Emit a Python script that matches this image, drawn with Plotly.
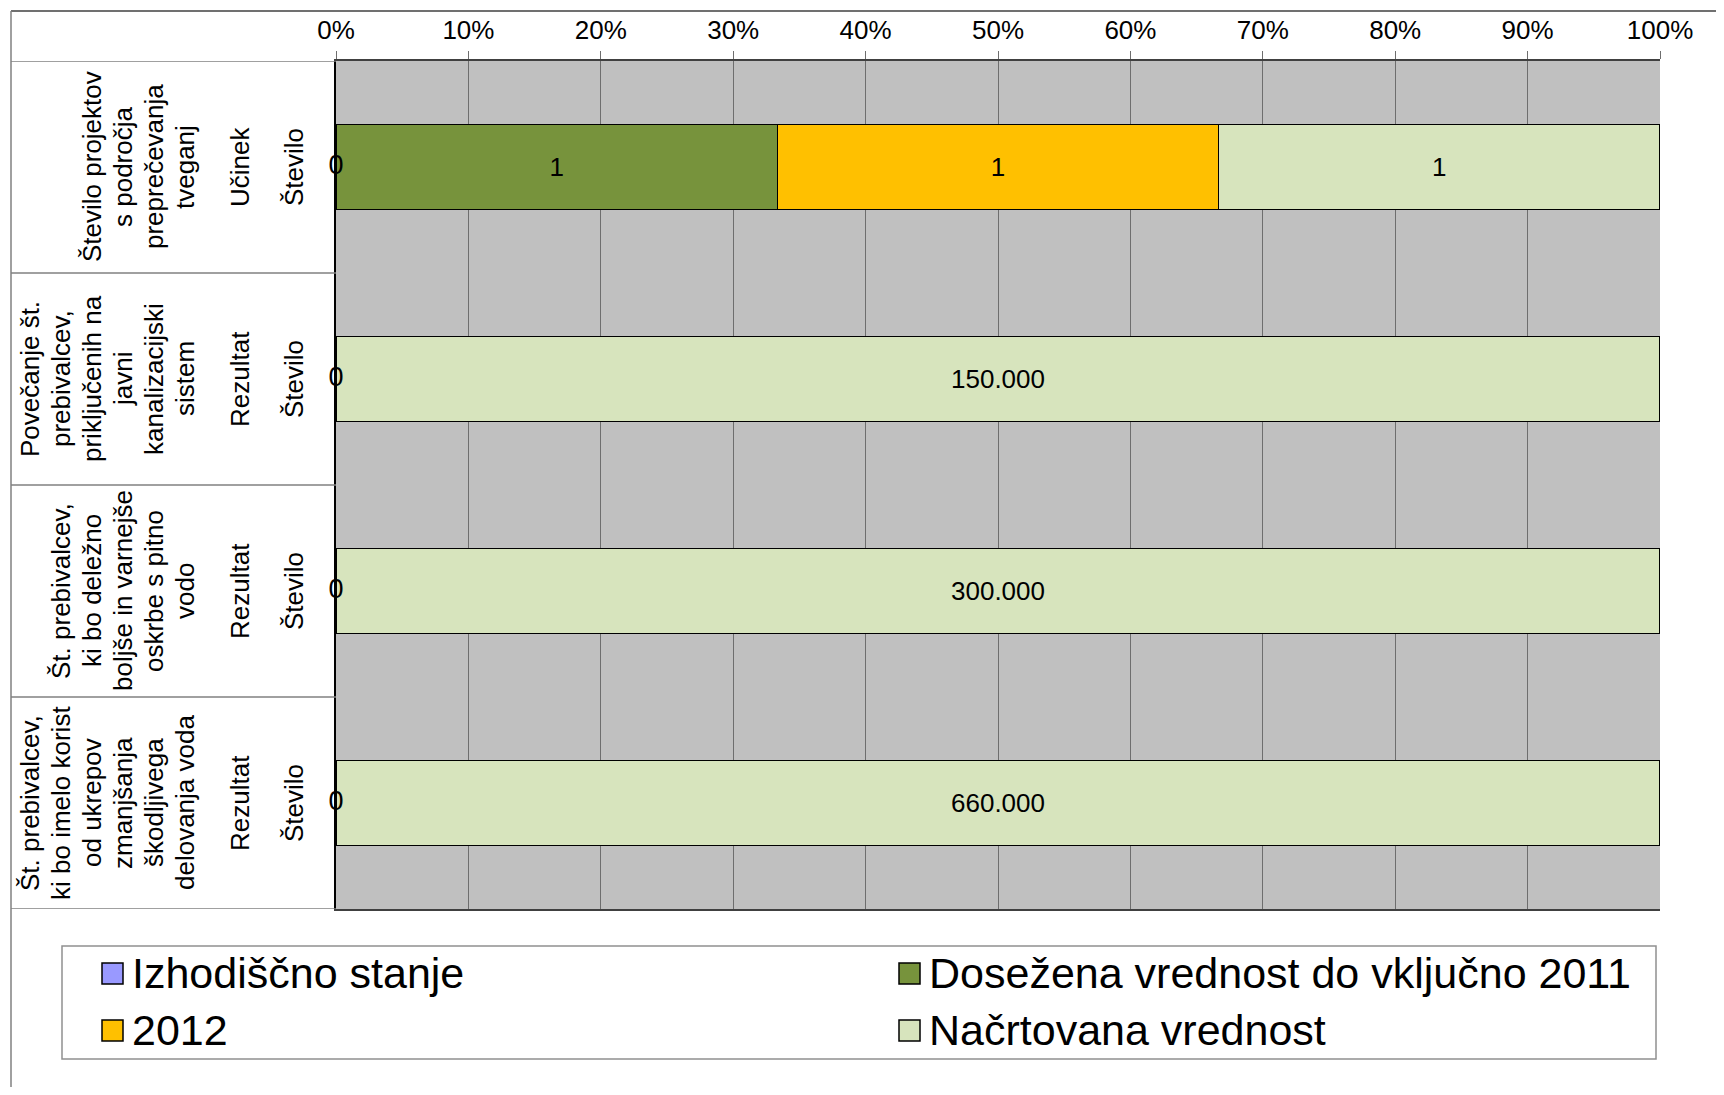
import plotly.graph_objects as go

# ---------------- data ----------------
categories = [
    "Število projektov s področja preprečevanja tveganj",
    "Povečanje št. prebivalcev, priključenih na javni kanalizacijski sistem",
    "Št. prebivalcev, ki bo deležno boljše in varnejše oskrbe s pitno vodo",
    "Št. prebivalcev, ki bo imelo korist od ukrepov zmanjšanja škodljivega delovanja voda",
]
desc_lines = [
    ["Število projektov", "s področja", "preprečevanja", "tveganj"],
    ["Povečanje št.", "prebivalcev,", "priključenih na", "javni", "kanalizacijski", "sistem"],
    ["Št. prebivalcev,", "ki bo deležno", "boljše in varnejše", "oskrbe s pitno", "vodo"],
    ["Št. prebivalcev,", "ki bo imelo korist", "od ukrepov", "zmanjšanja", "škodljivega", "delovanja voda"],
]
indicator_type = ["Učinek", "Rezultat", "Rezultat", "Rezultat"]
unit = ["Število", "Število", "Število", "Število"]

series_names = ["Izhodiščno stanje", "Dosežena vrednost do vključno 2011", "2012", "Načrtovana vrednost"]
izhodiscno = [0, 0, 0, 0]
dosezena_2011 = [1, None, None, None]
leto_2012 = [1, None, None, None]
nacrtovana = [1, 150000, 300000, 660000]

x_tick_vals = [0, 10, 20, 30, 40, 50, 60, 70, 80, 90, 100]
x_tick_text = ["0%", "10%", "20%", "30%", "40%", "50%", "60%", "70%", "80%", "90%", "100%"]

colors = ["#9999FF", "#77933C", "#FFC000", "#D7E4BD"]

# ---------------- layout geometry (page pixels; page = figure + 8px body margin) ----------------
OFF = 8
W, H = 1708, 1079
L, T = 336 - OFF, 61 - OFF
R = W - (1660 - OFF)
B = H - (909 - OFF)
PW = W - L - R
PH = H - T - B
FONT = "Liberation Sans, Arial, sans-serif"


def px_x(px):
    return (px - OFF - L) / PW


def px_y(py):
    return (H - B - (py - OFF)) / PH


def fmt(v):
    if v is None:
        return ""
    return f"{v:,}".replace(",", ".")


fig = go.Figure()
for name, vals, col in zip(series_names, [izhodiscno, dosezena_2011, leto_2012, nacrtovana], colors):
    fig.add_trace(go.Bar(
        name=name,
        y=categories,
        x=vals,
        orientation="h",
        marker=dict(color=col, line=dict(color="black", width=1.5)),
        text=[fmt(v) if (v not in (None, 0)) else "" for v in vals],
        texttemplate="%{text}",
        textposition="inside",
        insidetextanchor="middle",
        textangle=0,
        constraintext="none",
        textfont=dict(size=26, color="black", family=FONT),
        hoverinfo="skip",
        showlegend=False,
    ))

# zero labels of the baseline series, centred on 0
fig.add_trace(go.Scatter(
    x=izhodiscno,
    y=categories,
    mode="text",
    text=[fmt(v) for v in izhodiscno],
    textposition="middle center",
    textfont=dict(size=27, color="black", family=FONT),
    showlegend=False,
    cliponaxis=False,
    hoverinfo="skip",
))

annotations = []
line_gap = 31
last_line_x = 185
for i, cat in enumerate(categories):
    lines = desc_lines[i]
    n = len(lines)
    for j, ln in enumerate(lines):
        xpx = last_line_x - (n - 1 - j) * line_gap
        annotations.append(dict(
            x=px_x(xpx), xref="paper", y=cat, yref="y",
            text=ln, textangle=-90, showarrow=False,
            xanchor="center", yanchor="middle",
            font=dict(size=26, color="black", family=FONT),
        ))
    annotations.append(dict(
        x=px_x(240), xref="paper", y=cat, yref="y",
        text=indicator_type[i], textangle=-90, showarrow=False,
        xanchor="center", yanchor="middle",
        font=dict(size=26, color="black", family=FONT),
    ))
    annotations.append(dict(
        x=px_x(294), xref="paper", y=cat, yref="y",
        text=unit[i], textangle=-90, showarrow=False,
        xanchor="center", yanchor="middle",
        font=dict(size=26, color="black", family=FONT),
    ))

shapes = []
# table lines in the label area
for b in [-0.5, 0.5, 1.5, 2.5, 3.5]:
    shapes.append(dict(type="line", xref="paper", yref="y",
                       x0=px_x(11), x1=0, y0=b, y1=b,
                       line=dict(color="#808080", width=1.5)))
# outer frame (top and left)
shapes.append(dict(type="line", xref="paper", yref="paper",
                   x0=px_x(11), x1=px_x(1730), y0=px_y(11), y1=px_y(11),
                   line=dict(color="#404040", width=1.5)))
shapes.append(dict(type="line", xref="paper", yref="paper",
                   x0=px_x(11), x1=px_x(11), y0=px_y(11), y1=px_y(1100),
                   line=dict(color="#808080", width=1.5)))

# legend (drawn box, swatches and labels)
shapes.append(dict(type="rect", xref="paper", yref="paper",
                   x0=px_x(62), x1=px_x(1656), y0=px_y(946), y1=px_y(1059),
                   fillcolor="white", line=dict(color="#909090", width=1.5), layer="below"))
legend_cols = [102, 899]
legend_rows = [973, 1030]
for k, (name, col) in enumerate(zip(series_names, colors)):
    cx = legend_cols[k % 2]
    cy = legend_rows[k // 2]
    shapes.append(dict(type="rect", xref="paper", yref="paper",
                       x0=px_x(cx), x1=px_x(cx + 21), y0=px_y(cy - 10), y1=px_y(cy + 11),
                       fillcolor=col, line=dict(color="black", width=1.5)))
    annotations.append(dict(
        x=px_x(cx + 28), xref="paper", y=px_y(cy), yref="paper",
        text=name, showarrow=False, xanchor="left", yanchor="middle",
        font=dict(size=43, color="black", family=FONT),
    ))

fig.update_layout(
    width=W, height=H,
    margin=dict(l=L, r=R, t=T, b=B, pad=0, autoexpand=False),
    paper_bgcolor="white",
    plot_bgcolor="#C0C0C0",
    barmode="stack",
    barnorm="percent",
    bargap=0.6,
    showlegend=False,
    font=dict(family=FONT, size=26, color="black"),
    xaxis=dict(
        side="top", range=[0, 100], automargin=False,
        tickmode="array", tickvals=x_tick_vals, ticktext=x_tick_text,
        tickfont=dict(size=26, color="black", family=FONT),
        showgrid=True, gridcolor="#6E6E6E", gridwidth=1,
        ticks="outside", ticklen=8, tickcolor="#6E6E6E", tickwidth=1,
        ticklabelstandoff=2,
        showline=True, linecolor="#404040", linewidth=1.5, mirror=True,
        zeroline=False, fixedrange=True,
    ),
    yaxis=dict(
        type="category", categoryorder="array", categoryarray=categories,
        range=[3.5, -0.5], showticklabels=False, ticks="", automargin=False,
        showgrid=False, zeroline=False,
        showline=True, linecolor="black", linewidth=2, mirror=False,
        fixedrange=True,
    ),
    annotations=annotations,
    shapes=shapes,
)

fig.write_html("out.html")
